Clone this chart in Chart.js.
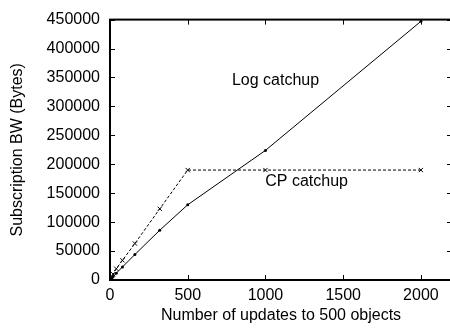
<!DOCTYPE html>
<html><head><meta charset="utf-8">
<script src="https://cdn.jsdelivr.net/npm/chart.js@4/dist/chart.umd.min.js"></script>
<style>html,body{margin:0;padding:0;background:#fff;overflow:hidden;width:450px;height:331px}</style>
</head><body>
<canvas id="c" width="460" height="331"></canvas>
<script>
const logX = [0, 10, 20, 40, 80, 160, 320, 500, 1000, 2000];
const logY = [0, 3000, 6000, 11500, 22500, 44000, 86000, 130000, 224000, 447000];
const cpX = [0, 10, 20, 40, 80, 160, 320, 500, 1000, 2000];
const cpY = [0, 5000, 10000, 19500, 34000, 63000, 123000, 190000, 190000, 190000];
const xTicks = [0, 500, 1000, 1500, 2000];
const yTicks = [0, 50000, 100000, 150000, 200000, 250000, 300000, 350000, 400000, 450000];
const FONT = 'Liberation Sans, Arial, sans-serif';
const FS = 16;

const boxPlugin = {
  id: 'box',
  afterDraw(chart) {
    const ctx = chart.ctx, a = chart.chartArea, sx = chart.scales.x, sy = chart.scales.y;
    ctx.save();
    ctx.strokeStyle = '#000';
    ctx.lineWidth = 1;
    const L = 5;
    xTicks.forEach(v => {
      const p = Math.round(sx.getPixelForValue(v)) + 0.5;
      ctx.beginPath(); ctx.moveTo(p, a.bottom); ctx.lineTo(p, a.bottom - L);
      ctx.moveTo(p, a.top); ctx.lineTo(p, a.top + L); ctx.stroke();
    });
    yTicks.forEach(v => {
      const p = Math.round(sy.getPixelForValue(v)) + 0.5;
      ctx.beginPath(); ctx.moveTo(a.left, p); ctx.lineTo(a.left + L, p);
      ctx.moveTo(a.right, p); ctx.lineTo(a.right - L, p); ctx.stroke();
    });
    ctx.lineWidth = 2;
    ctx.strokeRect(a.left, a.top, a.right - a.left, a.bottom - a.top);
    ctx.fillStyle = '#000';
    ctx.font = FS + 'px ' + FONT;
    ctx.textAlign = 'center';
    ctx.textBaseline = 'middle';
    ctx.fillText('Log catchup', sx.getPixelForValue(1065), sy.getPixelForValue(345000));
    ctx.fillText('CP catchup', sx.getPixelForValue(1265), sy.getPixelForValue(170000));
    ctx.restore();
  }
};

new Chart(document.getElementById('c'), {
  type: 'scatter',
  data: {
    datasets: [
      {
        label: 'Log catchup',
        data: logX.map((x, i) => ({x, y: logY[i]})),
        showLine: true,
        borderColor: '#000',
        backgroundColor: '#000',
        borderWidth: 1,
        pointStyle: 'circle',
        pointRadius: 1.5,
        pointBorderWidth: 0
      },
      {
        label: 'CP catchup',
        data: cpX.map((x, i) => ({x, y: cpY[i]})),
        showLine: true,
        borderColor: '#000',
        backgroundColor: '#000',
        borderWidth: 1,
        borderDash: [3, 2],
        pointStyle: 'crossRot',
        pointRadius: 3,
        pointBorderWidth: 1
      }
    ]
  },
  options: {
    responsive: false,
    animation: false,
    layout: {padding: {top: 10, right: 8, left: 8, bottom: 0}},
    plugins: {legend: {display: false}, tooltip: {enabled: false}},
    scales: {
      x: {
        type: 'linear', min: 0, max: 2200,
        afterBuildTicks: s => { s.ticks = xTicks.map(v => ({value: v})); },
        afterFit: s => { s.height = 51; },
        grid: {display: false, drawTicks: false},
        border: {display: false},
        ticks: {color: '#000', font: {family: FONT, size: FS}, padding: 6, maxRotation: 0,
                callback: v => String(v)},
        title: {display: true, text: 'Number of updates to 500 objects', color: '#000',
                font: {family: FONT, size: FS}, padding: {top: 0, bottom: 6}}
      },
      y: {
        type: 'linear', min: 0, max: 450000,
        afterBuildTicks: s => { s.ticks = yTicks.map(v => ({value: v})); },
        afterFit: s => { s.width = 102; },
        grid: {display: false, drawTicks: false},
        border: {display: false},
        ticks: {color: '#000', font: {family: FONT, size: FS}, padding: 10,
                callback: v => String(v)},
        title: {display: true, text: 'Subscription BW (Bytes)', color: '#000',
                font: {family: FONT, size: FS}, padding: {top: 0, bottom: 0}}
      }
    }
  },
  plugins: [boxPlugin]
});
</script>
</body></html>
